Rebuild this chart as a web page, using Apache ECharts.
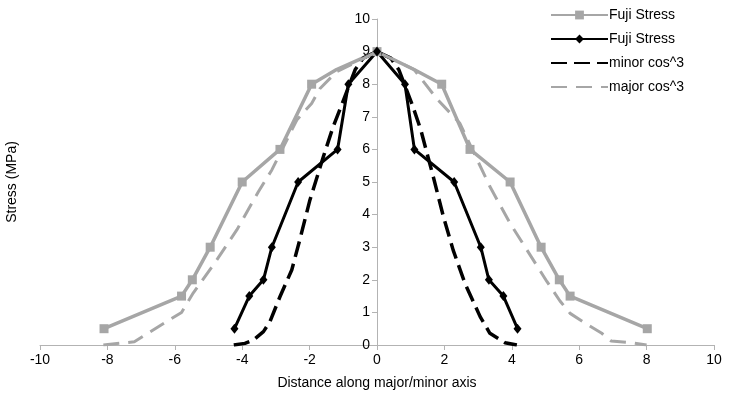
<html>
<head>
<meta charset="utf-8">
<title>Fuji Stress</title>
<script src="https://cdn.jsdelivr.net/npm/echarts@6/dist/echarts.min.js"></script>
</head>
<body style="margin: 0px;">
<div id="main" style="width: 729px;height: 407px;"></div>
<script type="text/javascript">
// Fuji Stress (grey squares)
var majorX = [-8.1, -5.8, -5.48, -4.95, -4.0, -2.88, -1.94, -1.2, 0, 1.1, 1.92, 2.76, 3.95, 4.87, 5.41, 5.73, 8.02];
var majorY = [0.5, 1.5, 2, 3, 5, 6, 8, 8.45, 9, 8.45, 8, 6, 5, 3, 2, 1.5, 0.5];
var majorNoMarker = [-1.2, 1.1];

// Fuji Stress (black diamonds)
var minorX = [-4.23, -3.79, -3.37, -3.12, -2.34, -1.17, -0.85, 0, 0.83, 1.11, 2.29, 3.08, 3.32, 3.75, 4.17];
var minorY = [0.5, 1.5, 2, 3, 5, 6, 8, 9, 8, 6, 5, 3, 2, 1.5, 0.5];

// minor cos^3
var minorCosX = [-4.25, -3.92, -3.67, -3.37, -3.18, -2.88, -2.53, -2.28, -1.99, -1.59, -1.3, -1.05, -0.65, -0.41, 0,
	0.41, 0.65, 1.05, 1.3, 1.67, 1.97, 2.26, 2.61, 3.06, 3.35, 3.8, 4.15];
var minorCosY = [0, 0.05, 0.15, 0.41, 0.71, 1.48, 2.3, 3.27, 4.45, 5.78, 6.7, 7.36, 8.44, 8.8, 9,
	8.8, 8.44, 7.36, 6.6, 5.16, 3.94, 2.91, 1.89, 0.87, 0.36, 0.07, 0];

// major cos^3
var majorCosX = [-8.12, -7.2, -5.8, -5.45, -4.76, -4.16, -3.52, -3.12, -2.38, -1.94, -1.69, -1.2, 0,
	1.1, 1.77, 2.46, 3.35, 3.95, 4.49, 5.04, 5.43, 5.73, 6.27, 6.67, 6.95, 7.56, 8.0];
var majorCosY = [0, 0.1, 1.0, 1.6, 2.6, 3.53, 4.7, 5.37, 6.9, 7.41, 7.87, 8.38, 9,
	8.45, 7.56, 6.8, 4.86, 3.73, 2.85, 1.95, 1.35, 0.97, 0.61, 0.36, 0.12, 0.07, 0];

var xTicks = { min: -10, max: 10, interval: 2 };
var yTicks = { min: 0, max: 10, interval: 1 };

function pairs(xs, ys, noMarker) {
	var out = [];
	for (var i = 0; i < xs.length; i++) {
		var p = { value: [xs[i], ys[i]] };
		if (noMarker && noMarker.indexOf(xs[i]) >= 0) {
			p.symbol = 'none';
		}
		out.push(p);
	}
	return out;
}

var grey = '#a6a6a6';
var font = 'Liberation Sans, Arial, sans-serif';
var gridLeft = 40, gridRight = 15;
// put the y axis where x = 0 sits (middle of the grid)
var yOffset = -(729 - gridLeft - gridRight) / 2;

var chart = echarts.init(document.getElementById('main'));
chart.setOption({
	animation: false,
	backgroundColor: '#fff',
	textStyle: { fontFamily: font },
	grid: { left: gridLeft, right: gridRight, top: 19, bottom: 62, containLabel: false, outerBoundsMode: 'none' },
	legend: {
		orient: 'vertical',
		left: 545,
		top: 3,
		itemWidth: 57,
		itemHeight: 11,
		itemGap: 10,
		textStyle: { fontSize: 14, color: '#000', fontFamily: font, padding: [0, 0, 0, -4] },
		data: [
			{ name: 'Fuji Stress' },
			{ name: 'Fuji Stress ' },
			{ name: 'minor cos^3', itemStyle: { opacity: 0 } },
			{ name: 'major cos^3', itemStyle: { opacity: 0 } }
		],
		formatter: function(n) { return n.trim(); }
	},
	graphic: [{
		type: 'text',
		x: 12,
		y: 182,
		rotation: Math.PI / 2,
		style: {
			text: 'Stress (MPa)',
			fontSize: 14,
			fontFamily: font,
			fill: '#000',
			align: 'center',
			verticalAlign: 'middle'
		}
	}],
	xAxis: {
		type: 'value',
		min: xTicks.min,
		max: xTicks.max,
		interval: xTicks.interval,
		name: 'Distance along major/minor axis',
		nameLocation: 'middle',
		nameGap: 31,
		nameTextStyle: { fontSize: 14, color: '#000', fontFamily: font },
		axisLine: { onZero: true, lineStyle: { color: '#b3b3b3', width: 1 } },
		axisTick: { show: true, length: 5, lineStyle: { color: '#b3b3b3' } },
		axisLabel: { fontSize: 14, color: '#000', margin: 8, fontFamily: font },
		splitLine: { show: false }
	},
	yAxis: {
		type: 'value',
		position: 'left',
		offset: yOffset,
		min: yTicks.min,
		max: yTicks.max,
		interval: yTicks.interval,
		axisLine: { show: true, onZero: false, lineStyle: { color: '#b3b3b3', width: 1 } },
		axisTick: { show: true, length: 5, lineStyle: { color: '#b3b3b3' } },
		axisLabel: { fontSize: 14, color: '#000', margin: 7, fontFamily: font },
		splitLine: { show: false }
	},
	series: [{
		name: 'Fuji Stress',
		type: 'line',
		symbol: 'rect',
		symbolSize: 9,
		itemStyle: { color: grey },
		lineStyle: { color: grey, width: 3.5 },
		data: pairs(majorX, majorY, majorNoMarker)
	}, {
		name: 'Fuji Stress ',
		type: 'line',
		symbol: 'diamond',
		symbolSize: [8, 10],
		itemStyle: { color: '#000' },
		lineStyle: { color: '#000', width: 3 },
		data: pairs(minorX, minorY)
	}, {
		name: 'minor cos^3',
		type: 'line',
		symbol: 'none',
		itemStyle: { color: '#000' },
		lineStyle: { color: '#000', width: 3.5, type: [16, 7] },
		data: pairs(minorCosX, minorCosY)
	}, {
		name: 'major cos^3',
		type: 'line',
		symbol: 'none',
		itemStyle: { color: grey },
		lineStyle: { color: grey, width: 3, type: [16, 9] },
		data: pairs(majorCosX, majorCosY)
	}]
});
</script>
</body>
</html>
